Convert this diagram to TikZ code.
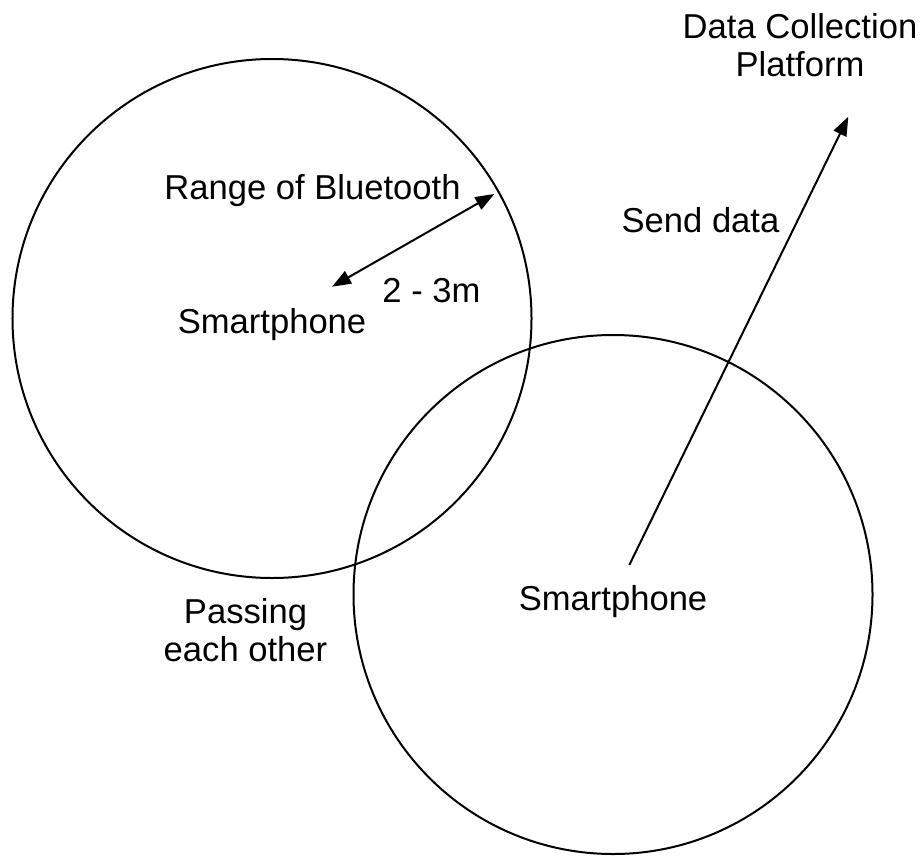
\documentclass[tikz,border=0pt]{standalone}
\usepackage{fontspec}
\setmainfont{Liberation Sans}
\usetikzlibrary{arrows.meta}

\tikzset{
  rangecircle/.style={circle, draw, line width=2bp, minimum size=519bp, inner sep=0pt},
  label text/.style={font=\fontsize{34.6bp}{38.4bp}\selectfont, inner sep=0pt, anchor=base, align=center},
  link/.style={line width=2bp, -{Triangle[length=19bp,width=14bp]}},
  biglink/.style={line width=2bp, {Triangle[length=19bp,width=14bp]}-{Triangle[length=19bp,width=14bp]}}
}

\begin{document}
\begin{tikzpicture}[x=1bp, y=-1bp]
  \useasboundingbox (0,0) rectangle (922,857);

  % Bluetooth ranges of the two phones
  \node[rangecircle] (rangeA) at (272,318.5) {};
  \node[rangecircle] (rangeB) at (613,594.5) {};

  % Phones
  \node[label text] (phoneA) at (272,333) {Smartphone};
  \node[label text] (phoneB) at (613,610) {Smartphone};

  % Labels (two-line labels sit on the baseline of their last line)
  \node[label text] (rangeLabel) at (312.5,199) {Range of Bluetooth};
  \node[label text] (distLabel) at (431.5,302.5) {2 - 3m};
  \node[label text] (sendLabel) at (700.5,232) {Send data};
  \node[label text] (platform) at (800,76.7) {Data Collection\\Platform};
  \node[label text] (passing) at (245.5,661.4) {Passing\\each other};

  % Arrow ends
  \coordinate (rangeInner) at (332,286.7);
  \coordinate (rangeEdge) at (494.3,194);
  \coordinate (sendStart) at (629.3,565);
  \coordinate (sendEnd) at (848.3,116.7);

  % Connectors
  \draw[biglink] (rangeInner) -- (rangeEdge);
  \draw[link] (sendStart) -- (sendEnd);
\end{tikzpicture}
\end{document}
